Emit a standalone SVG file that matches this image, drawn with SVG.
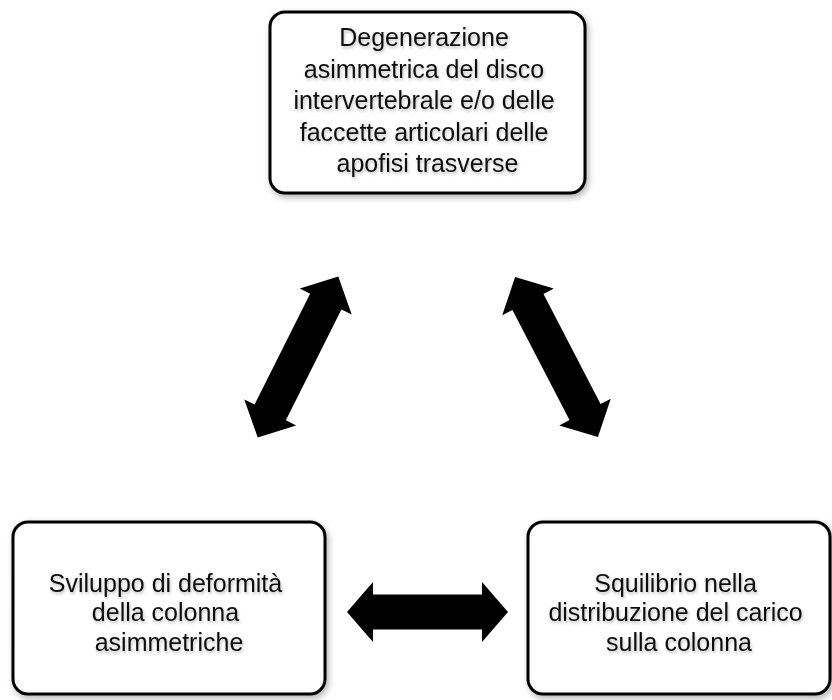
<svg xmlns="http://www.w3.org/2000/svg" width="832" height="700" viewBox="0 0 832 700">
  <style>
    .box { fill: #ffffff; stroke: #000000; stroke-width: 3; }
    .lbl { font-family: "Liberation Sans", Arial, sans-serif; font-size: 25px; fill: #111111; text-anchor: middle; }
    .arr { fill: #000000; }
  </style>
  <defs>
    <filter id="sh" x="-10%" y="-10%" width="120%" height="125%">
      <feDropShadow dx="2" dy="3" stdDeviation="3" flood-color="#000000" flood-opacity="0.3"/>
    </filter>
    <filter id="tsh" x="-5%" y="-20%" width="110%" height="150%">
      <feDropShadow dx="1" dy="2" stdDeviation="1.5" flood-color="#000000" flood-opacity="0.25"/>
    </filter>
    <polygon id="darr" points="-90,0 -62,-29 -62,-17.5 62,-17.5 62,-29 90,0 62,29 62,17.5 -62,17.5 -62,29"/>
  </defs>
  <rect width="832" height="700" fill="#ffffff"/>

  <g id="node-top">
    <rect class="box" x="270" y="12" width="315" height="181" rx="15" filter="url(#sh)"/>
    <text class="lbl" filter="url(#tsh)" transform="scale(1,1.05)">
      <tspan x="427.5" y="44.29">Degenerazione</tspan>
      <tspan x="427.5" y="74.19">asimmetrica del disco</tspan>
      <tspan x="427.5" y="104.1">intervertebrale e/o delle</tspan>
      <tspan x="427.5" y="134">faccette articolari delle</tspan>
      <tspan x="427.5" y="163.81">apofisi trasverse</tspan>
    </text>
  </g>

  <g id="node-left">
    <rect class="box" x="13" y="522" width="312" height="172" rx="15" filter="url(#sh)"/>
    <text class="lbl" filter="url(#tsh)" transform="scale(1,1.05)">
      <tspan x="169" y="563.81">Sviluppo di deformità</tspan>
      <tspan x="169" y="591.9">della colonna</tspan>
      <tspan x="169" y="620">asimmetriche</tspan>
    </text>
  </g>

  <g id="node-right">
    <rect class="box" x="528" y="522" width="302" height="172" rx="15" filter="url(#sh)"/>
    <text class="lbl" filter="url(#tsh)" transform="scale(1,1.05)">
      <tspan x="679" y="563.81">Squilibrio nella</tspan>
      <tspan x="679" y="591.9">distribuzione del carico</tspan>
      <tspan x="679" y="620">sulla colonna</tspan>
    </text>
  </g>

  <g id="connectors" class="arr">
    <use href="#darr" transform="translate(298,357) rotate(-63.4)"/>
    <use href="#darr" transform="translate(556.5,357) rotate(62.6)"/>
    <polygon points="347,612 373,582 373,594.5 482,594.5 482,582 508,612 482,642 482,629.5 373,629.5 373,642"/>
  </g>
</svg>
